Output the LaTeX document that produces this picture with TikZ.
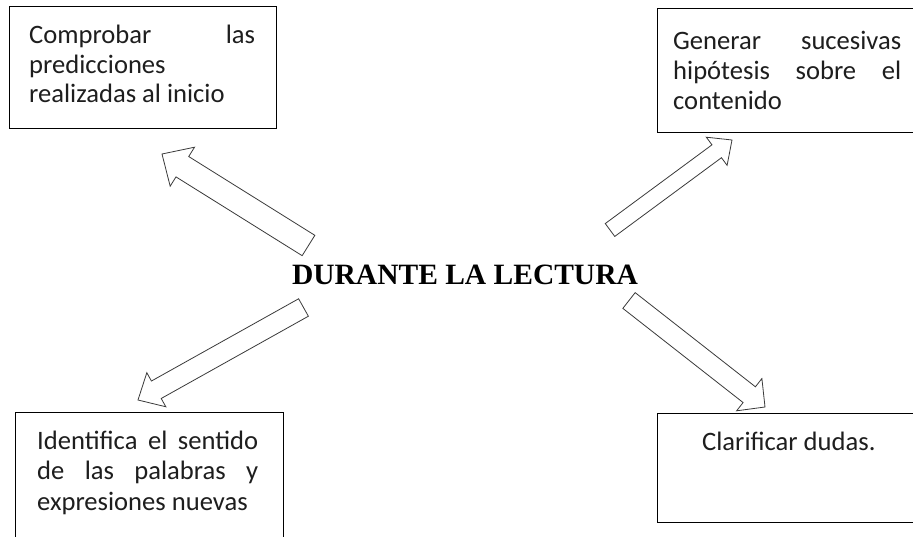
\documentclass[tikz,border=0pt]{standalone}
\usepackage{fontspec}
\setmainfont{Carlito}
\newfontfamily\titlefont{Liberation Serif}
\usetikzlibrary{calc}
\definecolor{txt}{HTML}{1E1E1E}
\definecolor{arrline}{HTML}{3A3A3A}
\newcommand\myblockarrow[5]{% tail, tip, shaft half width, head half width, head length
  \coordinate (ba-n) at ($(#2)!#5!(#1)$);
  \draw[barrow] ($(#1)!#3!90:(#2)$) -- ($(ba-n)!#3!90:(#2)$) -- ($(ba-n)!#4!90:(#2)$) -- (#2)
    -- ($(ba-n)!#4!-90:(#2)$) -- ($(ba-n)!#3!-90:(#2)$) -- ($(#1)!#3!-90:(#2)$) -- cycle;
}
\begin{document}
\begin{tikzpicture}[x=1pt,y=-1pt,
  box/.style={draw=black,line width=1.1pt,fill=white,rectangle,inner sep=0pt,anchor=north west},
  boxtext/.style={inner sep=0pt,anchor=base west,text=txt,font=\fontsize{26.6}{30}\selectfont},
  barrow/.style={draw=arrline,line width=0.8pt,fill=white,line join=miter}]
\useasboundingbox (0,0) rectangle (913,537);
\clip (0,0) rectangle (913,537);
% boxes
\node[box,minimum width=267pt,minimum height=122pt] (b1) at (9,6) {};
\node[box,minimum width=280pt,minimum height=124pt] (b2) at (657,8) {};
\node[box,minimum width=268pt,minimum height=150pt] (b3) at (15,412) {};
\node[box,minimum width=280pt,minimum height=109pt] (b4) at (657,413) {};
% texts
\node[boxtext] (t1) at (29,44) {\vtop{\baselineskip=29.5pt\lineskiplimit=-10pt
  \hbox to 226pt{Comprobar\hfill las}\hbox{predicciones}\hbox{realizadas al inicio}}};
\node[boxtext] (t2) at (673,50) {\vtop{\baselineskip=30pt\lineskiplimit=-10pt
  \hbox to 228pt{Generar\hfill sucesivas}\hbox to 228pt{hipótesis\hfill sobre\hfill el}\hbox{contenido}}};
\node[boxtext] (t3) at (37,449) {\vtop{\baselineskip=30.5pt\lineskiplimit=-10pt
  \hbox to 221pt{Identifica\hfill el\hfill sentido}\hbox to 221pt{de\hfill las\hfill palabras\hfill y}\hbox{expresiones nuevas}}};
\node[boxtext] (t4) at (702,450) {Clarificar dudas.};
% centre
\node[inner sep=0pt,anchor=base,text=black,font=\titlefont\bfseries\fontsize{29.5}{30}\selectfont] (c) at (465,285) {DURANTE LA LECTURA};
% arrows
\coordinate (a1t) at (308.5,245.5); \coordinate (a1p) at (162,154);
\coordinate (a2t) at (610,230);     \coordinate (a2p) at (732,140);
\coordinate (a3t) at (303.5,307.5); \coordinate (a3p) at (138,400);
\coordinate (a4t) at (629,300.5);   \coordinate (a4p) at (765,407);
\myblockarrow{a1t}{a1p}{12pt}{23pt}{24pt}
\myblockarrow{a2t}{a2p}{8pt}{17.5pt}{19pt}
\myblockarrow{a3t}{a3p}{10pt}{19.5pt}{21pt}
\myblockarrow{a4t}{a4p}{10pt}{20.5pt}{20pt}
\end{tikzpicture}
\end{document}
